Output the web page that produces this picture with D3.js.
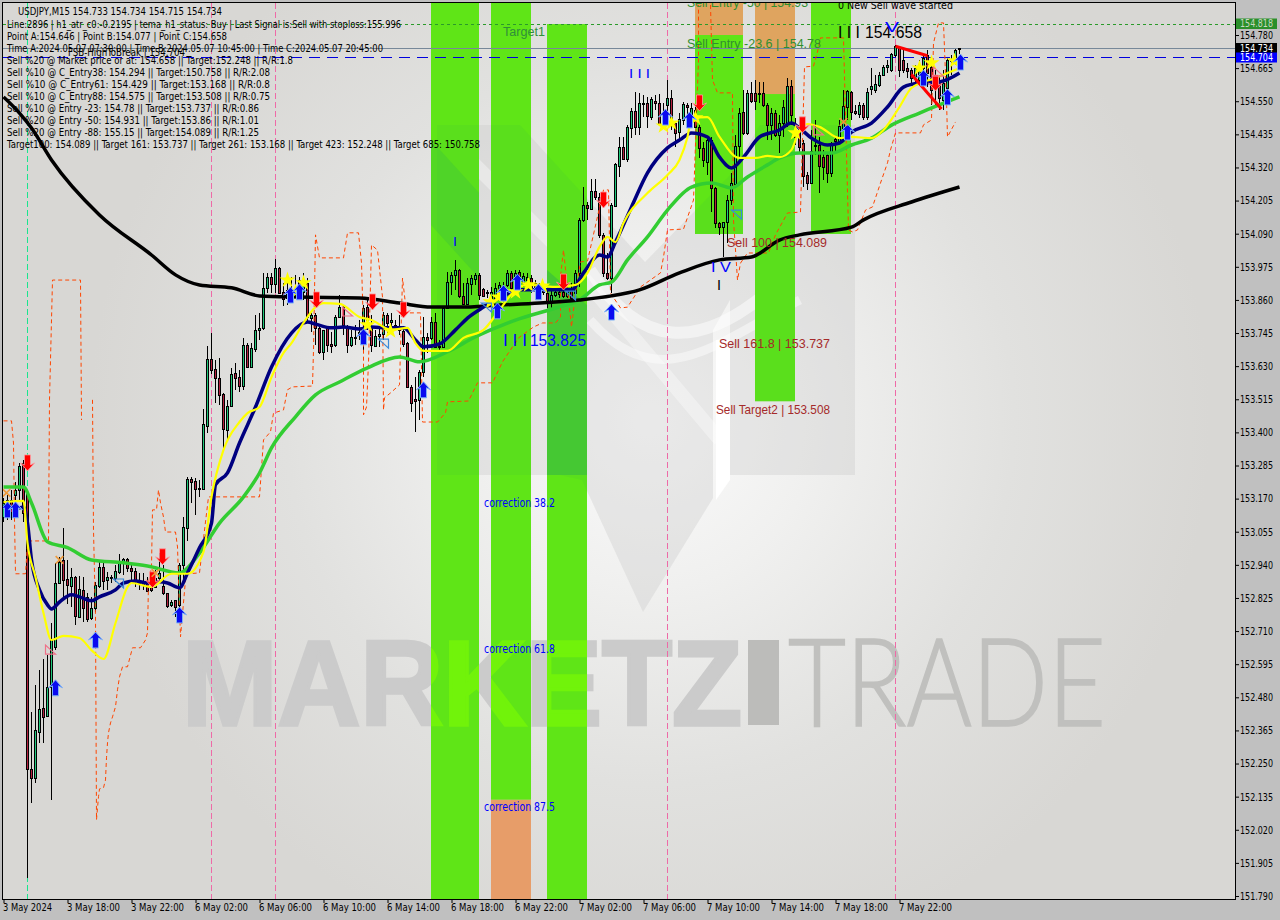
<!DOCTYPE html>
<html><head><meta charset="utf-8"><title>USDJPY,M15</title>
<script src="https://cdn.jsdelivr.net/npm/d3@7"></script>
<style>
html,body{margin:0;padding:0;background:#c0c0c0;overflow:hidden}
svg{display:block}
text{font-family:"DejaVu Sans Condensed","DejaVu Sans","Liberation Sans",sans-serif}
</style></head><body><div id="chart"></div>
<script>
const opens=[153.106,153.113,153.165,153.183,153.200,153.294,153.190,152.232,152.200,152.360,152.443,152.415,152.516,152.655,152.877,152.957,152.891,152.867,152.898,152.759,152.853,152.828,152.756,152.790,152.867,152.933,152.888,152.898,152.895,152.915,152.947,152.961,152.929,152.919,152.888,152.881,152.881,152.863,152.863,152.895,152.867,152.843,152.801,152.818,152.801,152.940,153.068,153.238,153.231,153.207,153.204,153.422,153.655,153.620,153.589,153.534,153.409,153.492,153.606,153.592,153.561,153.704,153.627,153.690,153.756,153.763,153.902,153.940,153.915,153.971,153.888,153.867,153.895,153.877,153.929,153.888,153.919,153.798,153.808,153.763,153.680,153.763,153.707,153.704,153.801,153.835,153.770,153.704,153.732,153.739,153.780,153.835,153.766,153.700,153.735,153.742,153.808,153.784,153.773,153.766,153.752,153.711,153.558,153.516,153.513,153.610,153.732,153.728,153.784,153.700,153.697,153.832,153.922,153.947,153.964,153.874,153.846,153.915,153.933,153.947,153.898,153.888,153.867,153.860,153.898,153.909,153.912,153.954,153.919,153.957,153.919,153.929,153.936,153.919,153.912,153.895,153.884,153.849,153.877,153.888,153.888,153.874,153.895,153.884,153.954,154.138,154.190,154.176,154.238,154.218,154.086,153.954,153.936,154.186,154.325,154.391,154.349,154.457,154.516,154.461,154.544,154.544,154.495,154.551,154.544,154.502,154.537,154.561,154.474,154.443,154.485,154.537,154.502,154.519,154.461,154.388,154.339,154.415,154.249,154.127,154.113,154.131,154.207,154.263,154.395,154.513,154.440,154.579,154.579,154.579,154.579,154.537,154.468,154.509,154.433,154.474,154.474,154.603,154.426,154.468,154.405,154.294,154.266,154.395,154.398,154.356,154.363,154.301,154.419,154.412,154.457,154.530,154.582,154.516,154.506,154.537,154.495,154.592,154.589,154.606,154.641,154.669,154.658,154.710,154.738,154.693,154.665,154.658,154.631,154.624,154.665,154.710,154.669,154.596,154.617,154.554,154.596,154.693,154.700,154.733];
const highs=[153.172,153.183,153.200,153.228,153.294,153.304,153.193,152.429,152.523,152.575,152.613,152.627,152.738,152.947,152.967,153.068,152.957,152.929,152.902,152.902,152.898,152.843,152.828,152.881,152.950,152.947,152.915,152.905,152.940,152.978,152.964,152.964,152.940,152.929,152.912,152.912,152.898,152.905,152.922,152.981,152.940,152.843,152.818,152.818,152.947,153.106,153.245,153.245,153.242,153.235,153.481,153.700,153.745,153.652,153.658,153.537,153.513,153.624,153.641,153.617,153.728,153.711,153.711,153.808,153.815,153.954,153.954,153.954,154.002,153.974,153.919,153.919,153.940,153.947,153.940,153.954,153.936,153.815,153.815,153.773,153.756,153.766,153.749,153.808,153.877,153.842,153.773,153.756,153.773,153.790,153.842,153.860,153.808,153.756,153.766,153.818,153.815,153.815,153.790,153.808,153.766,153.714,153.565,153.593,153.617,153.801,153.745,153.801,153.815,153.721,153.836,153.957,153.957,153.999,153.967,153.919,153.936,153.947,153.954,153.954,153.902,153.895,153.905,153.919,153.922,153.922,153.964,153.961,153.964,153.964,153.954,153.954,153.947,153.929,153.919,153.912,153.895,153.895,153.902,153.902,153.902,153.912,153.919,153.964,154.145,154.252,154.200,154.280,154.280,154.231,154.093,154.023,154.197,154.336,154.426,154.426,154.468,154.526,154.582,154.579,154.572,154.565,154.565,154.572,154.575,154.544,154.624,154.589,154.478,154.509,154.547,154.544,154.544,154.530,154.468,154.408,154.422,154.426,154.252,154.131,154.131,154.225,154.301,154.433,154.526,154.589,154.589,154.617,154.624,154.617,154.617,154.544,154.526,154.519,154.502,154.554,154.631,154.624,154.492,154.495,154.415,154.304,154.450,154.485,154.426,154.381,154.370,154.408,154.426,154.485,154.589,154.589,154.585,154.537,154.547,154.544,154.596,154.665,154.641,154.651,154.676,154.693,154.717,154.745,154.742,154.728,154.683,154.665,154.676,154.693,154.710,154.728,154.693,154.658,154.641,154.658,154.700,154.710,154.731,154.734];
const lows=[153.089,153.096,153.096,153.106,153.165,153.089,151.853,152.113,152.183,152.322,152.322,152.412,152.124,152.644,152.877,152.828,152.804,152.794,152.732,152.756,152.742,152.742,152.749,152.776,152.860,152.853,152.853,152.877,152.881,152.909,152.905,152.915,152.881,152.863,152.853,152.853,152.846,152.846,152.860,152.881,152.836,152.790,152.794,152.759,152.742,152.870,153.023,153.155,153.113,153.176,153.200,153.398,153.603,153.502,153.495,153.339,153.370,153.488,153.548,153.541,153.548,153.624,153.627,153.680,153.721,153.756,153.884,153.884,153.884,153.884,153.839,153.842,153.849,153.867,153.867,153.860,153.784,153.749,153.704,153.673,153.652,153.680,153.676,153.697,153.798,153.739,153.676,153.697,153.704,153.721,153.686,153.756,153.680,153.697,153.697,153.721,153.745,153.745,153.756,153.739,153.697,153.555,153.471,153.402,153.443,153.593,153.676,153.721,153.693,153.680,153.693,153.829,153.877,153.895,153.867,153.842,153.842,153.877,153.912,153.860,153.870,153.867,153.860,153.853,153.884,153.867,153.905,153.884,153.905,153.905,153.905,153.905,153.884,153.888,153.870,153.877,153.832,153.832,153.870,153.867,153.867,153.867,153.860,153.867,153.905,154.131,154.138,154.172,154.207,154.075,153.940,153.929,153.884,154.183,154.287,154.346,154.339,154.422,154.433,154.433,154.495,154.457,154.485,154.519,154.468,154.461,154.495,154.450,154.391,154.408,154.468,154.474,154.485,154.457,154.353,154.322,154.294,154.165,154.110,154.086,154.009,154.058,154.190,154.259,154.356,154.433,154.433,154.544,154.519,154.544,154.530,154.415,154.415,154.426,154.370,154.426,154.461,154.468,154.398,154.370,154.252,154.242,154.263,154.363,154.231,154.277,154.266,154.287,154.370,154.405,154.457,154.485,154.485,154.502,154.492,154.485,154.485,154.572,154.579,154.599,154.641,154.648,154.651,154.704,154.634,154.648,154.631,154.613,154.606,154.606,154.624,154.599,154.537,154.526,154.519,154.519,154.572,154.641,154.676,154.715];
const closes=[153.155,153.165,153.124,153.200,153.283,153.120,152.232,152.200,152.367,152.440,152.412,152.516,152.679,152.877,152.950,152.888,152.870,152.898,152.762,152.856,152.790,152.752,152.790,152.870,152.933,152.884,152.898,152.895,152.919,152.950,152.961,152.929,152.919,152.884,152.877,152.870,152.850,152.853,152.895,152.912,152.843,152.797,152.811,152.794,152.940,153.072,153.238,153.228,153.204,153.204,153.429,153.655,153.617,153.589,153.530,153.412,153.492,153.603,153.589,153.561,153.704,153.627,153.693,153.756,153.763,153.902,153.940,153.915,153.971,153.884,153.863,153.895,153.874,153.902,153.888,153.919,153.801,153.808,153.763,153.680,153.756,153.704,153.700,153.801,153.835,153.773,153.704,153.732,153.728,153.749,153.832,153.766,153.704,153.735,153.742,153.808,153.780,153.790,153.766,153.756,153.707,153.558,153.502,153.509,153.610,153.732,153.721,153.784,153.697,153.697,153.832,153.922,153.947,153.964,153.874,153.846,153.919,153.936,153.947,153.877,153.874,153.884,153.888,153.902,153.912,153.877,153.954,153.902,153.954,153.912,153.943,153.940,153.905,153.905,153.888,153.888,153.849,153.877,153.888,153.881,153.874,153.895,153.867,153.954,154.138,154.190,154.180,154.238,154.218,154.086,153.954,153.936,154.190,154.332,154.391,154.349,154.461,154.516,154.461,154.544,154.540,154.499,154.558,154.544,154.471,154.468,154.561,154.478,154.440,154.488,154.540,154.530,154.526,154.461,154.388,154.346,154.415,154.249,154.127,154.113,154.131,154.207,154.266,154.395,154.509,154.440,154.579,154.551,154.551,154.575,154.537,154.468,154.509,154.433,154.474,154.530,154.603,154.502,154.450,154.391,154.291,154.266,154.377,154.398,154.325,154.322,154.301,154.398,154.412,154.464,154.533,154.585,154.513,154.509,154.537,154.495,154.582,154.603,154.610,154.641,154.669,154.676,154.714,154.742,154.658,154.658,154.655,154.631,154.665,154.658,154.700,154.648,154.589,154.631,154.561,154.613,154.693,154.690,154.728,154.734];

const blackBars=[0,4,7,12,24,37,43,49,57,64,74,89,99,107,114,124,134,144,152,159,169,179,187,194,199,212,215,227,239];
const blackVals=[154.565,154.509,154.457,154.346,154.155,154.016,153.947,153.912,153.902,153.874,153.870,153.867,153.849,153.835,153.835,153.842,153.849,153.860,153.874,153.895,153.954,153.999,154.009,154.068,154.086,154.113,154.138,154.200,154.252];
const navyBars=[0,4,5,6,7,9,11,12,14,17,19,22,24,28,30,33,36,39,41,44,46,49,52,53,56,59,63,67,72,76,78,82,85,89,92,96,100,103,105,109,113,116,120,124,129,136,142,145,149,151,153,157,161,166,169,172,176,179,182,185,189,194,197,199,202,206,209,212,217,221,225,229,234,239];
const navyVals=[153.141,153.138,153.141,153.085,152.957,152.853,152.801,152.787,152.811,152.836,152.829,152.815,152.829,152.853,152.877,152.884,152.877,152.881,152.877,152.860,152.912,152.999,153.085,153.218,153.259,153.363,153.488,153.627,153.745,153.783,153.776,153.763,153.766,153.759,153.766,153.763,153.763,153.721,153.697,153.707,153.756,153.797,153.835,153.867,153.895,153.895,153.895,153.954,154.016,154.009,154.061,154.183,154.301,154.388,154.415,154.440,154.426,154.356,154.318,154.356,154.426,154.450,154.474,154.457,154.422,154.398,154.405,154.443,154.474,154.530,154.599,154.613,154.617,154.648];
const yellowBars=[0,5,6,8,10,12,13,15,19,22,25,28,31,32,37,42,46,50,52,55,59,61,64,67,70,72,75,78,80,84,89,92,97,101,103,105,111,115,120,124,128,131,138,143,146,149,151,153,155,161,166,169,171,172,176,179,184,188,191,194,197,199,201,204,209,212,217,220,224,227,233,239];
const yellowVals=[153.158,153.162,153.016,152.898,152.773,152.679,152.683,152.693,152.686,152.644,152.613,152.738,152.863,152.877,152.863,152.909,152.909,152.985,153.176,153.339,153.436,153.467,153.488,153.592,153.676,153.710,153.780,153.835,153.849,153.846,153.801,153.790,153.756,153.763,153.710,153.683,153.683,153.728,153.756,153.825,153.895,153.912,153.905,153.912,153.954,154.044,154.079,154.061,154.127,154.231,154.294,154.346,154.426,154.492,154.495,154.426,154.353,154.353,154.360,154.356,154.381,154.450,154.471,154.461,154.422,154.426,154.422,154.450,154.530,154.596,154.631,154.665];
const greenBars=[0,5,7,11,16,22,30,36,44,49,54,60,64,67,73,78,84,91,99,104,111,118,128,138,144,149,152,156,161,166,172,177,182,186,191,194,199,207,212,217,222,229,239];
const greenVals=[153.210,153.210,153.155,153.020,153.000,152.957,152.947,152.936,152.912,152.981,153.085,153.176,153.259,153.346,153.454,153.530,153.575,153.624,153.662,153.645,153.680,153.732,153.790,153.832,153.860,153.912,153.922,153.999,154.079,154.172,154.252,154.266,154.249,154.287,154.329,154.353,154.370,154.370,154.398,154.422,154.467,154.509,154.565];
const stopBars=[0,2,2.5,2.75,3,5.5,6,6.5,11.25,11.5,12.25,19.25,19.5,20,22.25,22.5,23,23.25,23.75,24,25,25.5,25.75,26,26.25,26.75,27.25,28,28.5,29,29.75,31,32.25,34.25,35.5,36,36.25,37,37.25,38.25,38.75,39.25,40,40.5,43,43.5,44.25,45.5,46,49,49.75,51.25,64,65,66.75,67.5,70,70.5,71,72.25,77.25,77.5,78,79,85,86,88.75,89.5,90,90,90.75,91.25,92,93.5,94.75,95,95.25,96.75,99,99.75,100.75,104.25,104.75,108.5,110.5,111,116.25,118.5,122.25,124.75,128.75,132.5,134.75,138,139.25,139.25,140,142,143,144.25,146,150,151.25,151.75,154.25,156,157.5,159.25,164.25,165,166,170,172.5,173.75,173.75,174,176.75,177.25,178.5,182.25,182.5,183.5,184.25,186,191.25,193,196,199.25,200.25,202.5,203.75,204.25,210,211.25,212.25,213.5,215.5,217.25,219.25,221,221.75,223,229.25,230,232,232.5,233.75,235,235.75,236,238];
const stopVals=[153.440,153.440,153.363,153.096,152.909,152.909,153.009,153.023,153.023,153.513,153.929,153.929,153.443,null,153.513,153.061,152.759,152.055,152.135,152.162,152.166,152.193,152.270,152.322,152.357,152.391,152.412,152.447,152.506,152.551,152.586,152.586,152.652,152.652,152.679,152.704,152.877,152.933,153.131,153.131,153.200,153.155,153.106,153.054,153.054,153.002,152.690,152.888,152.909,152.912,153.002,153.176,153.176,153.374,153.402,153.467,153.478,153.513,153.548,153.558,153.561,153.686,154.086,154.006,154.006,154.093,154.093,153.988,153.756,153.461,153.488,153.641,154.051,154.033,153.870,153.478,153.520,153.537,153.565,153.936,153.815,153.815,153.436,153.436,153.468,153.506,153.509,153.572,153.572,153.645,153.728,153.766,153.780,153.780,153.801,153.940,154.033,153.766,153.884,153.992,153.995,154.242,154.242,153.884,153.832,153.835,153.867,153.905,153.954,154.009,154.103,154.106,154.207,154.693,154.884,null,154.884,154.624,154.579,154.579,154.138,153.929,153.988,154.023,154.023,154.086,154.162,154.165,154.669,154.672,154.735,154.770,154.770,154.103,154.096,154.103,154.172,154.183,154.266,154.336,154.381,154.440,154.440,154.468,154.485,154.752,154.822,154.822,154.554,154.426,154.478];

const zoneFrom=[107,122,122,136,173,173,188,188,202];
const zoneTo=[119,132,132,146,185,185,198,198,212];
const zoneHigh=[155,155,152.124,154.818,155,154.78,155,154.575,155];
const zoneLow=[151,152.124,151,151,154.78,154.089,154.575,153.508,154.089];
const zoneFill=["g","g","o","g","o","g","o","g","g"];

const upBars=[1,3,13,23,44,71.75,74,90,105,123.5,125,128.5,133.75,152,165.5,171.5,211,230,236,239.25];
const upVals=[153.131,153.131,152.513,152.679,152.766,153.877,153.888,153.732,153.548,153.822,153.884,153.922,153.888,153.818,154.495,154.485,154.443,154.631,154.565,154.686];
const downBars=[6,39.75,37.25,78.25,92.25,100,140,150,174,199.75,233];
const downVals=[153.294,152.968,152.888,153.860,153.853,153.825,153.922,154.207,154.544,154.468,154.613];
const starBars=[71,73,75,91,96.75,121.75,123.75,128,131.25,134.75,165,167,173,198,229,232,237.75];
const starVals=[153.929,153.888,153.919,153.773,153.752,153.853,153.870,153.888,153.912,153.908,154.464,154.474,154.492,154.440,154.665,154.683,154.690];
const hollowBlueBars=[28.75,95,120.75,141.75,183.25];
const hollowBlueVals=[152.877,153.710,153.835,153.877,154.158];
const hollowPinkBars=[11.75,86,203.75,233.75];
const hollowPinkVals=[152.644,153.818,154.447,154.651];
const crossBars=[0.75,14,38,210];
const crossVals=[153.190,152.957,152.912,154.478];
const wedgeFrom=[223,227];
const wedgeFromVal=[154.741,154.643];
const wedgeTo=[231,234.5];
const wedgeToVal=[154.708,154.523];

const priceTicks=[154.78,154.665,154.55,154.435,154.32,154.205,154.09,153.975,153.86,153.745,153.63,153.515,153.4,153.285,153.17,153.055,152.94,152.825,152.71,152.595,152.48,152.365,152.25,152.135,152.02,151.905,151.79];
const timeTickBars=[0,16,32,48,64,80,96,112,128,144,160,176,192,208,224];
const timeLabels=["3 May 2024","3 May 18:00","3 May 22:00","6 May 02:00","6 May 06:00","6 May 10:00","6 May 14:00","6 May 18:00","6 May 22:00","7 May 02:00","7 May 06:00","7 May 10:00","7 May 14:00","7 May 18:00","7 May 22:00"];
const pinkTimes=[52,68,166,223];
const springTimes=[6];

const infoLines=["Line:2896 | h1_atr_c0:-0.2195 | tema_h1_status: Buy | Last Signal is:Sell with stoploss:155.996","Point A:154.646 | Point B:154.077 | Point C:154.658","Time A:2024.05.07 07:30:00 | Time B:2024.05.07 10:45:00 | Time C:2024.05.07 20:45:00","Sell %20 @ Market price or at: 154.658 || Target:152.248 || R/R:1.8","Sell %10 @ C_Entry38: 154.294 || Target:150.758 || R/R:2.08","Sell %10 @ C_Entry61: 154.429 || Target:153.168 || R/R:0.8","Sell %10 @ C_Entry88: 154.575 || Target:153.508 || R/R:0.75","Sell %10 @ Entry -23: 154.78 || Target:153.737 || R/R:0.86","Sell %20 @ Entry -50: 154.931 || Target:153.86 || R/R:1.01","Sell %20 @ Entry -88: 155.15 || Target:154.089 || R/R:1.25","Target100: 154.089 || Target 161: 153.737 || Target 261: 153.168 || Target 423: 152.248 || Target 685: 150.758"];
const infoWidths=[394,220,376,286,263,263,263,252,252,252,473];
const infoY=[24,36,48,60,72,84,96,108,120,132,144];

const W=1280,H=920,L=3,T=3,R=1235,B=899;
const x=d3.scaleLinear().domain([0,239]).range([3.5,959.5]);
const y=d3.scaleLinear().domain([154.78,151.79]).range([35,896]);
const svg=d3.select("#chart").append("svg").attr("width",W).attr("height",H).attr("viewBox",`0 0 ${W} ${H}`);
const defs=svg.append("defs");
const grad=defs.append("radialGradient").attr("id","bg").attr("gradientUnits","userSpaceOnUse").attr("cx",650).attr("cy",420).attr("r",560);
[[0,"#fbfbfb"],[.3,"#f0f0ef"],[.65,"#e1e1df"],[1,"#d8d7d4"]].forEach(s=>grad.append("stop").attr("offset",s[0]).attr("stop-color",s[1]));
defs.append("clipPath").attr("id","plot").append("rect").attr("x",L).attr("y",T).attr("width",R-L).attr("height",B-T);
const zoneClip=defs.append("clipPath").attr("id","zones");
zoneFrom.forEach((b,i)=>{ if(zoneFill[i]==="g") zoneClip.append("rect").attr("x",x(b)-.5).attr("width",x(zoneTo[i])-x(b)).attr("y",y(zoneHigh[i])).attr("height",y(zoneLow[i])-y(zoneHigh[i]));});

svg.append("rect").attr("width",W).attr("height",H).attr("fill","#c0c0c0");
svg.append("rect").attr("x",L).attr("y",T).attr("width",R-L).attr("height",B-T).attr("fill","url(#bg)");
const plot=svg.append("g").attr("clip-path","url(#plot)");

// watermark
function watermark(g,main,thin,block){
  g.append("text").attr("x",182).attr("y",725).attr("font-size",120).attr("font-weight",700).attr("textLength",560).attr("lengthAdjust","spacingAndGlyphs").attr("fill",main).attr("stroke",main).attr("stroke-width",3.5).style("font-family","Liberation Sans").text("MARKETZ");
  g.append("rect").attr("x",748).attr("y",640).attr("width",31).attr("height",85).attr("fill",block);
  g.append("text").attr("x",788).attr("y",726).attr("font-size",122).attr("font-weight",300).attr("textLength",318).attr("lengthAdjust","spacingAndGlyphs").attr("fill",thin).attr("stroke",thin).attr("stroke-width",1.6).style("font-family","Lato").text("TRADE");
}
const logoShape="M437,125L520,125L645,262L730,175L760,125L855,125L855,475L730,475L730,300L713,330L713,498L643,612L582,480L560,475L437,475Z";
const wm=plot.append("g");
wm.append("path").attr("d",logoShape).attr("fill","#c8c8c8").attr("opacity",.35);
wm.append("path").attr("d","M440,130L560,250L720,440").attr("fill","none").attr("stroke","#ffffff").attr("stroke-width",14).attr("opacity",.35);
wm.append("path").attr("d","M590,270C640,350 700,350 770,290").attr("fill","none").attr("stroke","#ffffff").attr("stroke-width",12).attr("opacity",.5);
wm.append("path").attr("d","M590,320C660,400 720,340 800,300").attr("fill","none").attr("stroke","#ffffff").attr("stroke-width",9).attr("opacity",.45);
wm.append("path").attr("d","M716,340L730,340L730,480L716,500Z").attr("fill","#ffffff");
watermark(wm,"#cbcbcb","#c0c0be","#bcbcba");

// zones
plot.selectAll("rect.zone").data(zoneFrom.map((b,i)=>i)).join("rect").attr("class","zone")
 .attr("x",i=>x(zoneFrom[i])-.5).attr("width",i=>x(zoneTo[i])-x(zoneFrom[i]))
 .attr("y",i=>y(zoneHigh[i])).attr("height",i=>y(zoneLow[i])-y(zoneHigh[i]))
 .attr("fill",i=>zoneFill[i]==="g"?"#5fe517":(zoneFrom[i]===122?"#e79d69":"#dfa45f"));
const zo=plot.append("g").attr("clip-path","url(#zones)");
zo.append("path").attr("d",logoShape).attr("fill","#2fb24a").attr("opacity",.1);
zo.append("path").attr("d","M547,270L587,305L587,475L547,475Z").attr("fill","#2fb24a").attr("opacity",.5);
zo.append("path").attr("d","M431,140L490,205L490,290L431,225Z").attr("fill","#2fb24a").attr("opacity",.25);
watermark(zo,"#71f30a","#71f30a","#71f30a");

// verticals
plot.selectAll("line.pink").data(pinkTimes).join("line").attr("class","pink")
 .attr("x1",d=>x(d)).attr("x2",d=>x(d)).attr("y1",T).attr("y2",B).attr("stroke","#ee6aa7").attr("stroke-dasharray","6,3").attr("stroke-width",1);
plot.selectAll("line.spring").data(springTimes).join("line").attr("class","spring")
 .attr("x1",d=>x(d)).attr("x2",d=>x(d)).attr("y1",T).attr("y2",B).attr("stroke","#19e58e").attr("stroke-dasharray","6,3").attr("stroke-width",1);

// horizontals
const hlines=[[154.818,"#2a9a2a","3,3"],[154.734,"#778899",null],[154.704,"#0000dd","11,7"]];
hlines.forEach(h=>{const l=plot.append("line").attr("x1",L).attr("x2",R).attr("y1",Math.round(y(h[0]))+.5).attr("y2",Math.round(y(h[0]))+.5).attr("stroke",h[1]).attr("stroke-width",1);if(h[2])l.attr("stroke-dasharray",h[2]);});

// candles
const n=opens.length;
const cg=plot.append("g").attr("shape-rendering","crispEdges");
cg.selectAll("line").data(d3.range(n)).join("line").attr("x1",i=>Math.floor(x(i))+.5).attr("x2",i=>Math.floor(x(i))+.5)
 .attr("y1",i=>y(highs[i])).attr("y2",i=>y(lows[i])).attr("stroke","#000");
cg.selectAll("rect").data(d3.range(n)).join("rect")
 .attr("x",i=>Math.floor(x(i))-.5).attr("width",2)
 .attr("y",i=>Math.round(y(Math.max(opens[i],closes[i])))+.5)
 .attr("height",i=>Math.max(1,Math.round(Math.abs(y(opens[i])-y(closes[i])))))
 .attr("fill",i=>closes[i]>=opens[i]?"#1fc87a":"#b5203f").attr("stroke","#000");

// stop line
const stopLine=d3.line().defined(d=>d[1]!==null).x(d=>x(d[0])).y(d=>y(d[1]));
plot.append("path").attr("d",stopLine(stopBars.map((b,i)=>[b,stopVals[i]]))).attr("fill","none").attr("stroke","#ff4500").attr("stroke-width",1).attr("stroke-dasharray","4,3");

// moving averages
const ma=d3.line().x(d=>x(d[0])).y(d=>y(d[1])).curve(d3.curveMonotoneX);
function drawMA(b,v,c,w){plot.append("path").attr("d",ma(b.map((q,i)=>[q,v[i]]))).attr("fill","none").attr("stroke",c).attr("stroke-width",w).attr("stroke-linejoin","round");}
drawMA(greenBars,greenVals,"#32cd32",3.5);
drawMA(blackBars,blackVals,"#000000",3.5);
drawMA(navyBars,navyVals,"#000080",3.5);
drawMA(yellowBars,yellowVals,"#ffff00",2.2);

// wedge
plot.selectAll("line.wedge").data(wedgeFrom.map((b,i)=>i)).join("line").attr("class","wedge")
 .attr("x1",i=>x(wedgeFrom[i])).attr("y1",i=>y(wedgeFromVal[i])).attr("x2",i=>x(wedgeTo[i])).attr("y2",i=>y(wedgeToVal[i])).attr("stroke","#ff0000").attr("stroke-width",3);

// signals
const upPath="M0,-8L7,0L3,-2L3,8L-3,8L-3,-2L-7,0Z";
const downPath="M0,8L7,0L3,2L3,-8L-3,-8L-3,2L-7,0Z";
const hollowPath="M-5,-4L5,-4L5,5L-1,-0.5Z";
function markers(bars,vals,fn){bars.forEach((b,i)=>fn(plot.append("g").attr("transform",`translate(${x(b)},${y(vals[i])})`)));}
markers(starBars,starVals,g=>g.append("path").attr("d",d3.symbol(d3.symbolStar,80)()).attr("fill","#ffff00"));
markers(upBars,upVals,g=>g.append("path").attr("d",upPath).attr("fill","#0a0af0").attr("stroke","#7eb2f5").attr("stroke-width",1));
markers(downBars,downVals,g=>g.append("path").attr("d",downPath).attr("fill","#ff0000").attr("stroke","#ff9aa0").attr("stroke-width",.8));
markers(hollowBlueBars,hollowBlueVals,g=>g.append("path").attr("d",hollowPath).attr("fill","none").attr("stroke","#3a8ad8").attr("stroke-width",1.2));
markers(hollowPinkBars,hollowPinkVals,g=>g.append("path").attr("d",hollowPath).attr("transform","rotate(180)").attr("fill","none").attr("stroke","#f07088").attr("stroke-width",1.2));
markers(crossBars,crossVals,g=>g.append("path").attr("d",d3.symbol(d3.symbolTimes,40)()).attr("fill","none").attr("stroke","#ee9a3a").attr("stroke-width",1.6));

// chart labels
const labels=[
 ["0 New Sell wave started",838,5,115,11,"#000"],
 ["I I I",838,32,22,17,"#000"],["154.658",865,32,57,17,"#000"],["V",885,27,14,15,"#0000ff"],
 ["I I I",629,73,21,13,"#0000ff"],["I I I",503,340,24,16,"#0000ff"],["153.825",530,340,56,17,"#0000ff"],
 ["I V",711,267,20,15,"#0000ff"],["I",717,285,4,15,"#000"],["I",453,241,4,13,"#0000ff"],
 ["Target1",503,32,42,12.5,"#2f8f3a"],["Sell Entry -23.6 | 154.78",687,43,134,13,"#2f8f2f"],["Sell Entry -50 | 154.93",687,2,121,13,"#2f8f2f"],
 ["Sell 100 | 154.089",727,242,100,13,"#a52a2a"],["Sell 161.8 | 153.737",719,343,111,13,"#a52a2a"],["Sell Target2 | 153.508",716,409,114,13,"#a52a2a"],
 ["correction 38.2",484,503,71,11.5,"#0000ff"],["correction 61.8",484,649,71,11.5,"#0000ff"],["correction 87.5",484,807,71,11.5,"#0000ff"]
];
plot.selectAll("text.lab").data(labels).join("text").attr("class","lab").attr("x",d=>d[1]).attr("y",d=>d[2]).attr("dy","0.35em").attr("textLength",d=>d[3]).attr("lengthAdjust","spacingAndGlyphs").attr("font-size",d=>d[4]).attr("fill",d=>d[5]).style("font-family",d=>d[4]>=12?'"Liberation Sans"':null).text(d=>d[0]);

// info block
svg.append("text").attr("x",18).attr("y",11).attr("dy","0.35em").attr("font-size",10.5).attr("textLength",204).attr("lengthAdjust","spacingAndGlyphs").attr("fill","#000").text("USDJPY,M15  154.733 154.734 154.715 154.734");
svg.append("text").attr("x",68).attr("y",52).attr("dy","0.35em").attr("font-size",10.5).attr("textLength",117).attr("lengthAdjust","spacingAndGlyphs").attr("fill","#000").text("FSB-HighToBreak | 154.704");
svg.selectAll("text.info").data(infoLines).join("text").attr("class","info").attr("x",7).attr("y",(d,i)=>infoY[i]).attr("dy","0.35em").attr("font-size",10.5).attr("textLength",(d,i)=>infoWidths[i]).attr("lengthAdjust","spacingAndGlyphs").attr("fill","#000").text(d=>d);

// frame
svg.append("rect").attr("x",L-1).attr("y",T-1).attr("width",R-L+1).attr("height",B-T+1).attr("fill","none").attr("stroke","#000").attr("stroke-width",1).attr("shape-rendering","crispEdges");

// axes
const yAxis=d3.axisRight(y).tickValues(priceTicks).tickFormat(d3.format(".3f")).tickSize(4).tickPadding(1);
const ya=svg.append("g").attr("transform",`translate(${R},0)`).call(yAxis);
ya.select(".domain").remove();
ya.selectAll("text").attr("font-size",10.5).attr("textLength",33).attr("lengthAdjust","spacingAndGlyphs").attr("fill","#000").style("font-family",'"DejaVu Sans Condensed","DejaVu Sans",sans-serif');
ya.selectAll("line").attr("stroke","#000");
const xAxis=d3.axisBottom(x).tickValues(timeTickBars).tickFormat((d,i)=>timeLabels[i]).tickSize(4).tickPadding(1);
const xa=svg.append("g").attr("transform",`translate(0,${B})`).call(xAxis);
xa.select(".domain").remove();
xa.selectAll("line").attr("stroke","#000");
xa.selectAll("text").attr("text-anchor","start").attr("dx","-1").attr("font-size",10.5).attr("textLength",(d,i)=>i===0?49:53).attr("lengthAdjust","spacingAndGlyphs").attr("fill","#000").style("font-family",'"DejaVu Sans Condensed","DejaVu Sans",sans-serif');

// price flags
const flags=[[154.818,"#2a8f2a","#c8d8c0"],[154.734,"#000","#fff"],[154.704,"#0000ff","#fff"]];
flags.forEach(f=>{
 const by=f[0]===154.818?18.5:(f[0]===154.734?43:52.5);
 svg.append("rect").attr("x",R+1).attr("y",by).attr("width",41).attr("height",f[0]===154.818?10.5:10).attr("fill",f[1]);
 svg.append("text").attr("x",R+5).attr("y",by+5).attr("dy","0.35em").attr("font-size",10.5).attr("textLength",33).attr("lengthAdjust","spacingAndGlyphs").attr("fill",f[2]).text(d3.format(".3f")(f[0]));});
</script></body></html>
